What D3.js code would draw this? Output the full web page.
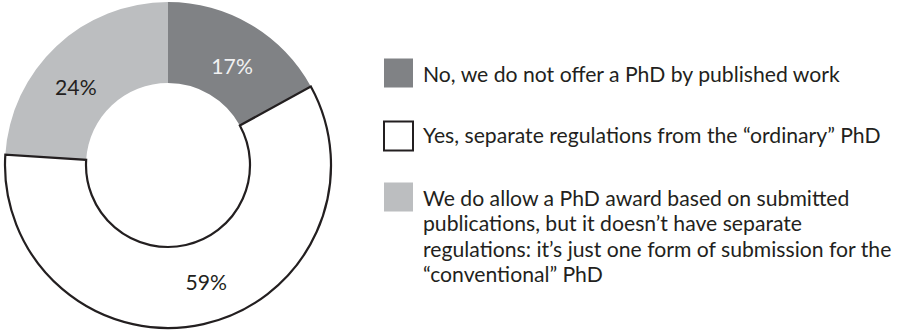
<!DOCTYPE html>
<html>
<head>
<meta charset="utf-8">
<script src="https://cdn.jsdelivr.net/npm/d3@7/dist/d3.min.js"></script>
<style>
  html, body { margin: 0; padding: 0; background: #fff; }
  svg { display: block; }
  text { font-family: Lato, "Open Sans", sans-serif; }
</style>
</head>
<body>
<svg id="chart" width="906" height="332"></svg>
<script>
// Responses on how a PhD by published work is offered
const legendLines = [
  ["No, we do not offer a PhD by published work"],
  ["Yes, separate regulations from the \u201cordinary\u201d PhD"],
  ["We do allow a PhD award based on submitted",
   "publications, but it doesn\u2019t have separate",
   "regulations: it\u2019s just one form of submission for the",
   "\u201cconventional\u201d PhD"]
];
const values = [17, 59, 24];
const fills = ["#808285", "#ffffff", "#bcbec0"];
const strokes = [null, "#231f20", null];
const labelColors = ["#f1f1f2", "#231f20", "#231f20"];
// small hand nudges for the percentage labels around their centroids
const labelNudge = [[3, 5], [12, 0], [-10, 10]];

const svg = d3.select("#chart");
const cx = 168, cy = 165, outerR = 163, innerR = 82;

const pie = d3.pie().sort(null).value(d => d);
const arcs = pie(values);
const arc = d3.arc().innerRadius(innerR).outerRadius(outerR);
const labelArc = d3.arc().innerRadius(120).outerRadius(120);

const g = svg.append("g").attr("transform", `translate(${cx},${cy})`);

// filled slices first, outlined slice on top so its border stays crisp
[0, 2, 1].forEach(i => {
  g.append("path")
    .attr("d", arc(arcs[i]))
    .attr("fill", fills[i])
    .attr("stroke", strokes[i] || "none")
    .attr("stroke-width", strokes[i] ? 2.2 : 0);
});

// legend font sized so the first entry spans its full width
const probe = svg.append("text").attr("font-size", 20).text(legendLines[0][0]);
const w = probe.node().getComputedTextLength();
probe.remove();
const legendFont = 20 * 417 / w;

g.selectAll("text.pct")
  .data(arcs)
  .join("text")
  .attr("class", "pct")
  .attr("transform", (d, i) => {
    const [x, y] = labelArc.centroid(d);
    return `translate(${x + labelNudge[i][0]},${y + labelNudge[i][1]})`;
  })
  .attr("text-anchor", "middle")
  .attr("dy", "0.36em")
  .attr("font-size", legendFont)
  .attr("fill", (d, i) => labelColors[i])
  .text(d => d.value + "%");

const legend = svg.append("g");
const swatchX = 384, swatchSize = 29, textX = 423;
const swatchTops = [58.5, 121.5, 182.5];
const firstBaselines = [82, 143, 206];
const lineStep = 25.4;

legendLines.forEach((lines, i) => {
  legend.append("rect")
    .attr("x", swatchX).attr("y", swatchTops[i])
    .attr("width", swatchSize).attr("height", swatchSize)
    .attr("fill", fills[i])
    .attr("stroke", strokes[i] || "none")
    .attr("stroke-width", strokes[i] ? 2 : 0);
  const t = legend.append("text")
    .attr("font-size", legendFont)
    .attr("fill", "#231f20");
  lines.forEach((ln, j) => {
    t.append("tspan")
      .attr("x", textX)
      .attr("y", firstBaselines[i] + j * lineStep)
      .text(ln);
  });
});
</script>
</body>
</html>
